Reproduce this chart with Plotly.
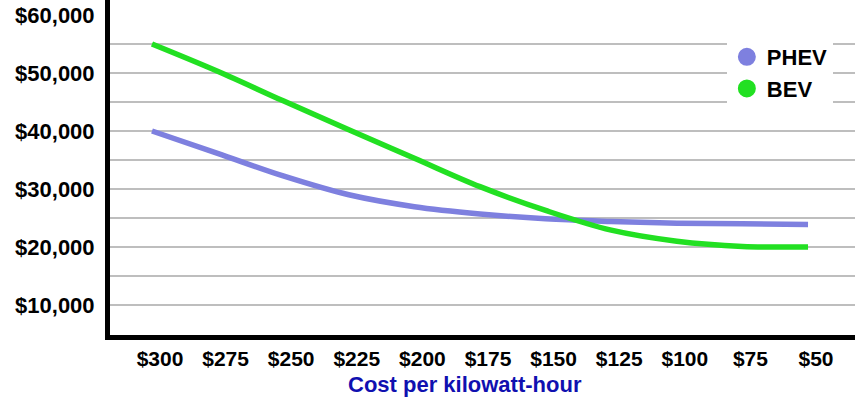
import plotly.graph_objects as go

cost_per_kwh = [300, 275, 250, 225, 200, 175, 150, 125, 100, 75, 50]
cost_labels = ["$300", "$275", "$250", "$225", "$200", "$175", "$150", "$125", "$100", "$75", "$50"]
phev_price = [40000, 36150, 32250, 29000, 26950, 25700, 24850, 24400, 24100, 24000, 23900]
bev_price = [55000, 50300, 45200, 40200, 35300, 30400, 26300, 22900, 21000, 20100, 20000]
y_tick_vals = [10000, 20000, 30000, 40000, 50000, 60000]
y_tick_text = ["$10,000", "$20,000", "$30,000", "$40,000", "$50,000", "$60,000"]
grid_vals = [10000, 15000, 20000, 25000, 30000, 35000, 40000, 45000, 50000, 55000]

PHEV_COLOR = "#7e80df"
BEV_COLOR = "#22e022"
FONT = "Liberation Sans, Arial, sans-serif"
Y_RANGE = [4828, 62586]

fig = go.Figure()
fig.add_trace(go.Scatter(x=cost_per_kwh, y=phev_price, mode="lines", name="PHEV",
                         line=dict(color=PHEV_COLOR, width=5.5, shape="spline"), showlegend=False))
fig.add_trace(go.Scatter(x=cost_per_kwh, y=bev_price, mode="lines", name="BEV",
                         line=dict(color=BEV_COLOR, width=5.5, shape="spline"), showlegend=False))
# legend-only entries (circles)
fig.add_trace(go.Scatter(x=[None], y=[None], mode="markers", name="PHEV", yaxis="y2",
                         marker=dict(color=PHEV_COLOR, size=16, line=dict(color=PHEV_COLOR, width=2))))
fig.add_trace(go.Scatter(x=[None], y=[None], mode="markers", name="BEV", yaxis="y2",
                         marker=dict(color=BEV_COLOR, size=16, line=dict(color=BEV_COLOR, width=2))))

fig.update_layout(
    width=863, height=398,
    margin=dict(l=110, r=8, t=0, b=63),
    plot_bgcolor="white", paper_bgcolor="white",
    font=dict(family=FONT, color="black"),
    xaxis=dict(range=[316.0, 32.1], tickvals=cost_per_kwh, ticktext=cost_labels, automargin=False,
               showgrid=False, zeroline=False, showline=True, linecolor="black", linewidth=5,
               ticks="", ticklabelstandoff=1, ticklabelshift=-8,
               tickfont=dict(family=FONT, size=21, color="black", weight="bold")),
    yaxis=dict(range=Y_RANGE, tickvals=y_tick_vals, ticktext=y_tick_text, automargin=False,
               showgrid=False, zeroline=False, showline=True, linecolor="black", linewidth=5,
               ticks="", ticklabelstandoff=6,
               tickfont=dict(family=FONT, size=22, color="black", weight="bold")),
    yaxis2=dict(range=Y_RANGE, overlaying="y", tickvals=grid_vals, showticklabels=False, automargin=False,
                showgrid=True, gridcolor="#bebebe", gridwidth=2, zeroline=False, showline=False,
                ticks=""),
    legend=dict(x=0.828, y=0.8925, xanchor="left", yanchor="top", bgcolor="white", borderwidth=0,
                font=dict(family=FONT, size=22, color="black", weight="bold"),
                itemsizing="trace", tracegroupgap=0),
    annotations=[dict(text="Cost per kilowatt-hour", xref="paper", yref="paper", x=0.477, y=-0.1463,
                      xanchor="center", yanchor="middle", showarrow=False,
                      font=dict(family=FONT, size=22, color="#1010b0", weight="bold"))],
)

fig.write_html("out.html", config={"displayModeBar": False},
               post_script="document.body.style.margin='0';document.body.style.padding='0';")
